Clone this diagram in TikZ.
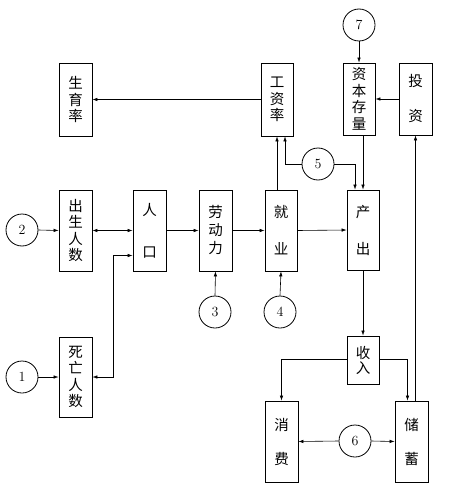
\documentclass[tikz,border=0pt]{standalone}
\usepackage{fontspec}
\newfontfamily\cjk{Noto Sans CJK SC}
\usetikzlibrary{arrows.meta, positioning, calc}
\tikzset{
    blk/.style={
        rectangle,
        draw=black,
        fill=white,
        minimum width=33pt,
        inner sep=0pt,
        align=center,
        font=\cjk\fontsize{14.5}{16.5}\selectfont,
        line width=0.8pt
    },
    num/.style={
        circle,
        draw=black,
        minimum size=32pt,
        inner sep=0pt,
        font=\fontsize{14}{16}\selectfont,
        line width=0.8pt
    },
    flow/.style={
        -{Latex[length=5pt, width=3.5pt]},
        draw=black,
        line width=0.6pt
    },
    both/.style={
        {Latex[length=5pt, width=3.5pt]}-{Latex[length=5pt, width=3.5pt]},
        draw=black,
        line width=0.6pt
    }
}
\begin{document}
\begin{tikzpicture}[x=1pt, y=-1pt]
    \useasboundingbox (0,0) rectangle (456,484);

    % Top row
    \node[blk, minimum height=73pt] (birthrate) at (75.5,99.5) {生\\育\\率};
    \node[blk, minimum height=73pt, minimum width=32pt] (wage) at (277,99.5) {工\\资\\率};
    \node[blk, minimum height=72pt, minimum width=32pt] (capital) at (359,99) {资\\本\\存\\量};
    \node[blk, minimum height=72pt] (invest) at (415.5,99) {投\\[18.5pt]资};

    % Middle row
    \node[blk, minimum height=81pt] (births) at (75.5,230.5) {出\\生\\人\\数};
    \node[blk, minimum height=81pt] (pop) at (149.5,230.5) {人\\[25.5pt]口};
    \node[blk, minimum height=81pt] (labour) at (215.5,230.5) {劳\\[1.5pt]动\\[1.5pt]力};
    \node[blk, minimum height=81pt, minimum width=32pt] (employ) at (281,230.5) {就\\[20.5pt]业};
    \node[blk, minimum height=80pt, minimum width=32pt] (output) at (363,230) {产\\[20.5pt]出};

    % Lower part
    \node[blk, minimum height=80pt] (deaths) at (75.5,377) {死\\亡\\人\\数};
    \node[blk, minimum height=48pt, minimum width=32pt] (income) at (363,360) {收\\[-1.5pt]入};
    \node[blk, minimum height=81pt] (consume) at (281.5,441.5) {消\\[17.5pt]费};
    \node[blk, minimum height=81pt] (saving) at (411.5,441.5) {储\\[17.5pt]蓄};

    % Exogenous inputs
    \node[num] (n1) at (22,377) {1};
    \node[num] (n2) at (22,230) {2};
    \node[num] (n3) at (215,312) {3};
    \node[num] (n4) at (280,312) {4};
    \node[num] (n5) at (318,164) {5};
    \node[num] (n6) at (355,441) {6};
    \node[num] (n7) at (359,25) {7};

    % Paths
    \draw[flow] (wage.west) -- (birthrate.east);
    \draw[flow] (wage.south |- employ.north) -- (wage.south);
    \draw[flow] (n5.west) -| ([xshift=8pt]wage.south);
    \draw[flow] (n5.east) -| ([xshift=-8pt]output.north);
    \draw[flow] (capital.south -| output.north) -- (output.north);
    \draw[flow] (n7.south) -- (capital.north);
    \draw[flow] (invest.west) -- (capital.east |- invest.west);
    \draw[flow] (saving.north -| invest.south) -- (invest.south);

    \draw[flow] (n2.east) -- (births.west);
    \draw[both] (births.east) -- (pop.west);
    \draw[flow] (pop.east) -- (labour.west);
    \draw[flow] (labour.east) -- (employ.west);
    \draw[flow] (employ.east) -- (output.west);
    \draw[both] (deaths.east) -- ++(21,0) |- ([yshift=-25pt]pop.west);
    \draw[flow] (n1.east) -- (deaths.west);
    \draw[flow] (n3.north) -- (labour.south);
    \draw[flow] (n4.north) -- (employ.south);

    \draw[flow] (output.south) -- (income.north);
    \draw[flow] ([yshift=1pt]income.west) -| (consume.north);
    \draw[flow] ([yshift=1pt]income.east) -| ([xshift=-4pt]saving.north);
    \draw[flow] (n6.west) -- (consume.east);
    \draw[flow] (n6.east) -- (saving.west);

\end{tikzpicture}
\end{document}
